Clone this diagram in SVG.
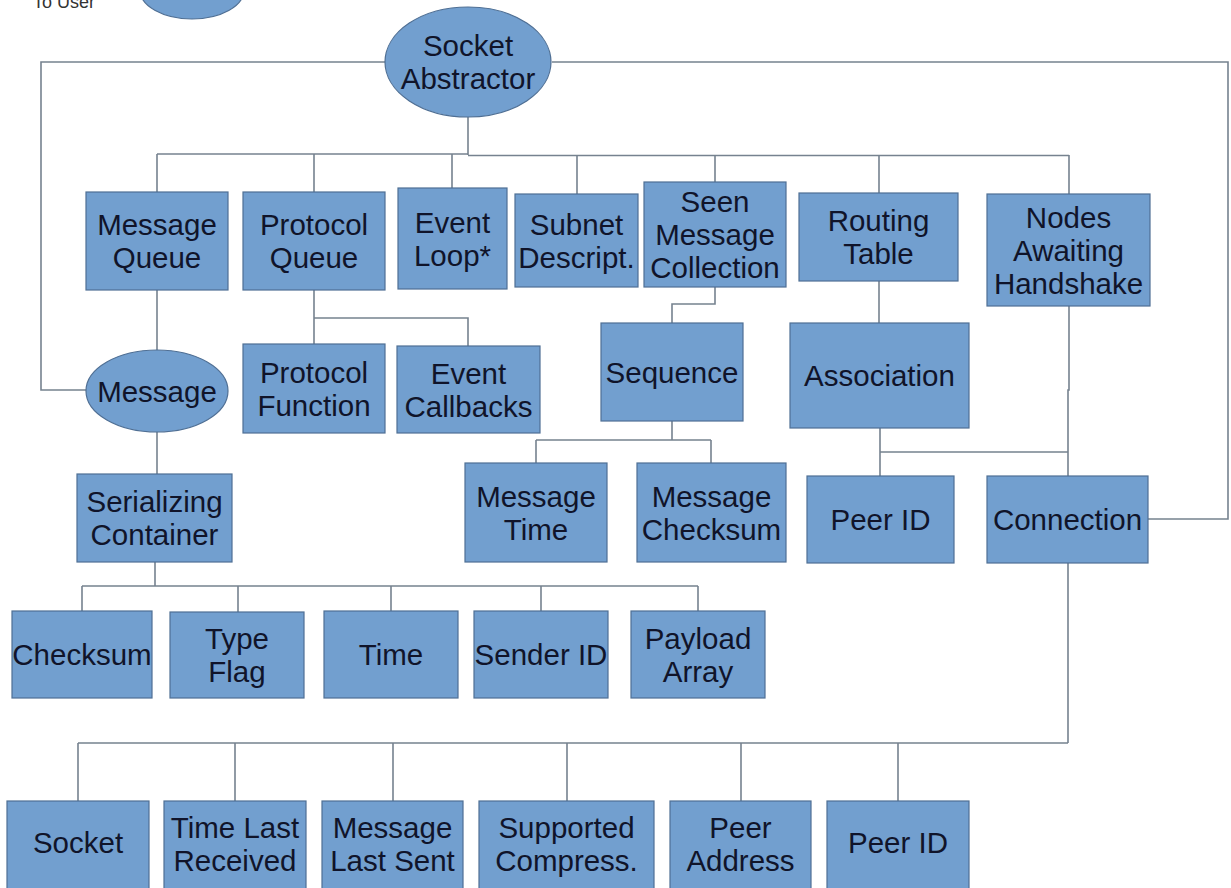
<svg xmlns="http://www.w3.org/2000/svg" width="1231" height="888" viewBox="0 0 1231 888">
<style>
.bg{fill:#ffffff}
.n{fill:#729fcf;stroke:#4f6f94;stroke-width:1.2}
.c{fill:none;stroke:#76828f;stroke-width:1.6}
.t{font-family:"Liberation Sans",Arial,sans-serif;font-size:29.5px;fill:#10142a;text-anchor:middle}
.s{font-family:"Liberation Sans",Arial,sans-serif;font-size:18px;fill:#333333}
</style>
<rect class="bg" x="0" y="0" width="1231" height="888"/>
<g id="connectors">
<path class="c" d="M385,62 H41 V390 H86"/>
<path class="c" d="M552,62 H1228 V519 H1148"/>
<path class="c" d="M468,117 V155"/>
<path class="c" d="M157,154 H468"/>
<path class="c" d="M468,155.5 H1069" stroke-width="2"/>
<path class="c" d="M157,154 V192 M314,154 V192 M452,154 V188 M577,155 V194 M715,155 V182 M879,155 V193 M1069,155 V194"/>
<path class="c" d="M157,290 V350"/>
<path class="c" d="M314,290 V344 M314,318 H468 V346"/>
<path class="c" d="M715,287 V304 H672 V323"/>
<path class="c" d="M672,421 V440 M536,440 H711 M536,440 V463 M711,440 V463"/>
<path class="c" d="M879,281 V323"/>
<path class="c" d="M880,428 V476 M880,452 H1068"/>
<path class="c" d="M1069,306 V390 H1068 V476"/>
<path class="c" d="M157,432 V474"/>
<path class="c" d="M155,562 V586 M82,586 H698 M82,586 V611 M238,586 V612 M391,586 V611 M541,586 V611 M698,586 V611"/>
<path class="c" d="M1068,563 V743 M78,743 H1068 M78,743 V801 M235,743 V801 M393,743 V801 M567,743 V801 M741,743 V801 M898,743 V801"/>
</g>
<g id="to-user">
<ellipse class="n" cx="192" cy="-10" rx="52" ry="29"/>
<text class="s" x="33" y="8">To User</text>
</g>
<g id="socket-abstractor">
<ellipse class="n" cx="468" cy="62" rx="83" ry="55"/>
<text class="t" x="468" y="56">Socket</text>
<text class="t" x="468" y="89">Abstractor</text>
</g>
<g id="message-queue">
<rect class="n" x="86" y="192" width="142" height="98"/>
<text class="t" x="157" y="235">Message</text>
<text class="t" x="157" y="268">Queue</text>
</g>
<g id="protocol-queue">
<rect class="n" x="243" y="192" width="142" height="98"/>
<text class="t" x="314" y="235">Protocol</text>
<text class="t" x="314" y="268">Queue</text>
</g>
<g id="event-loop">
<rect class="n" x="398" y="188" width="109" height="101"/>
<text class="t" x="452.5" y="232.5">Event</text>
<text class="t" x="452.5" y="265.5">Loop*</text>
</g>
<g id="subnet-descript">
<rect class="n" x="515" y="194" width="123" height="93"/>
<text class="t" x="576.5" y="234.5">Subnet</text>
<text class="t" x="576.5" y="267.5">Descript.</text>
</g>
<g id="seen-message-collection">
<rect class="n" x="644" y="182" width="142" height="105"/>
<text class="t" x="715" y="212">Seen</text>
<text class="t" x="715" y="245">Message</text>
<text class="t" x="715" y="278">Collection</text>
</g>
<g id="routing-table">
<rect class="n" x="799" y="193" width="159" height="88"/>
<text class="t" x="878.5" y="231">Routing</text>
<text class="t" x="878.5" y="264">Table</text>
</g>
<g id="nodes-awaiting-handshake">
<rect class="n" x="987" y="194" width="163" height="112"/>
<text class="t" x="1068.5" y="227.5">Nodes</text>
<text class="t" x="1068.5" y="260.5">Awaiting</text>
<text class="t" x="1068.5" y="293.5">Handshake</text>
</g>
<g id="message">
<ellipse class="n" cx="157" cy="391" rx="71" ry="41"/>
<text class="t" x="157" y="401.5">Message</text>
</g>
<g id="protocol-function">
<rect class="n" x="243" y="344" width="142" height="89"/>
<text class="t" x="314" y="382.5">Protocol</text>
<text class="t" x="314" y="415.5">Function</text>
</g>
<g id="event-callbacks">
<rect class="n" x="397" y="346" width="143" height="87"/>
<text class="t" x="468.5" y="383.5">Event</text>
<text class="t" x="468.5" y="416.5">Callbacks</text>
</g>
<g id="sequence">
<rect class="n" x="601" y="323" width="142" height="98"/>
<text class="t" x="672" y="382.5">Sequence</text>
</g>
<g id="association">
<rect class="n" x="790" y="323" width="179" height="105"/>
<text class="t" x="879.5" y="386">Association</text>
</g>
<g id="serializing-container">
<rect class="n" x="77" y="474" width="155" height="88"/>
<text class="t" x="154.5" y="512">Serializing</text>
<text class="t" x="154.5" y="545">Container</text>
</g>
<g id="message-time">
<rect class="n" x="465" y="463" width="142" height="99"/>
<text class="t" x="536" y="506.5">Message</text>
<text class="t" x="536" y="539.5">Time</text>
</g>
<g id="message-checksum">
<rect class="n" x="637" y="463" width="149" height="99"/>
<text class="t" x="711.5" y="506.5">Message</text>
<text class="t" x="711.5" y="539.5">Checksum</text>
</g>
<g id="peer-id-association">
<rect class="n" x="807" y="476" width="147" height="87"/>
<text class="t" x="880.5" y="530">Peer ID</text>
</g>
<g id="connection">
<rect class="n" x="987" y="476" width="161" height="87"/>
<text class="t" x="1067.5" y="530">Connection</text>
</g>
<g id="checksum">
<rect class="n" x="12" y="611" width="140" height="87"/>
<text class="t" x="82" y="665">Checksum</text>
</g>
<g id="type-flag">
<rect class="n" x="170" y="612" width="134" height="86"/>
<text class="t" x="237" y="649">Type</text>
<text class="t" x="237" y="682">Flag</text>
</g>
<g id="time">
<rect class="n" x="324" y="611" width="134" height="87"/>
<text class="t" x="391" y="665">Time</text>
</g>
<g id="sender-id">
<rect class="n" x="474" y="611" width="134" height="87"/>
<text class="t" x="541" y="665">Sender ID</text>
</g>
<g id="payload-array">
<rect class="n" x="631" y="611" width="134" height="87"/>
<text class="t" x="698" y="648.5">Payload</text>
<text class="t" x="698" y="681.5">Array</text>
</g>
<g id="socket">
<rect class="n" x="7" y="801" width="142" height="100"/>
<text class="t" x="78" y="853">Socket</text>
</g>
<g id="time-last-received">
<rect class="n" x="164" y="801" width="142" height="100"/>
<text class="t" x="235" y="838">Time Last</text>
<text class="t" x="235" y="871">Received</text>
</g>
<g id="message-last-sent">
<rect class="n" x="322" y="801" width="141" height="100"/>
<text class="t" x="392.5" y="838">Message</text>
<text class="t" x="392.5" y="871">Last Sent</text>
</g>
<g id="supported-compress">
<rect class="n" x="479" y="801" width="175" height="100"/>
<text class="t" x="566.5" y="838">Supported</text>
<text class="t" x="566.5" y="871">Compress.</text>
</g>
<g id="peer-address">
<rect class="n" x="670" y="801" width="141" height="100"/>
<text class="t" x="740.5" y="838">Peer</text>
<text class="t" x="740.5" y="871">Address</text>
</g>
<g id="peer-id-connection">
<rect class="n" x="827" y="801" width="142" height="100"/>
<text class="t" x="898" y="853">Peer ID</text>
</g>
</svg>
